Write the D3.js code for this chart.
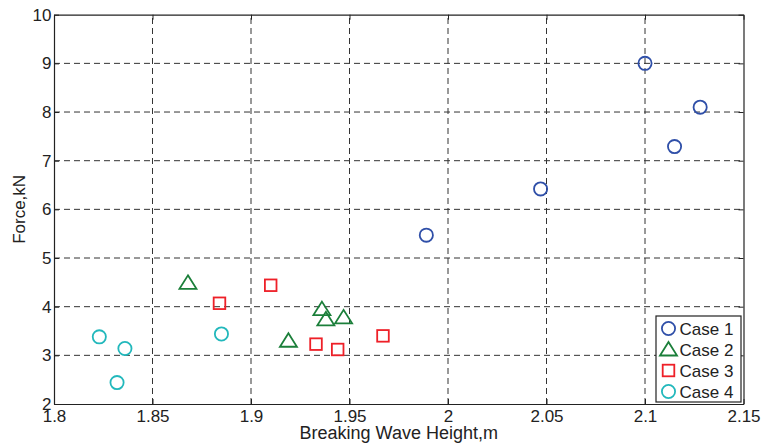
<!DOCTYPE html>
<html>
<head>
<meta charset="utf-8">
<script src="https://cdn.jsdelivr.net/npm/d3@7"></script>
<style>
  html, body { margin: 0; padding: 0; background: #fff; }
  svg { display: block; font-family: "Liberation Sans", Arial, sans-serif; }
</style>
</head>
<body>
<svg id="chart" width="762" height="447"></svg>
<script>
// Breaking wave height (m) vs. measured force (kN) for four test cases
const case1X = [2.100, 2.128, 2.115, 2.047, 1.989];
const case1Y = [9.00, 8.10, 7.29, 6.42, 5.47];
const case2X = [1.868, 1.919, 1.936, 1.938, 1.947];
const case2Y = [4.49, 3.30, 3.95, 3.74, 3.78];
const case3X = [1.884, 1.910, 1.933, 1.944, 1.967];
const case3Y = [4.07, 4.44, 3.23, 3.12, 3.40];
const case4X = [1.823, 1.836, 1.832, 1.885];
const case4Y = [3.38, 3.14, 2.44, 3.44];

const seriesNames = ["Case 1", "Case 2", "Case 3", "Case 4"];
const seriesColors = ["#2f4fa8", "#1b7f3a", "#ee2028", "#22b8bc"];
const seriesShapes = ["circle", "triangle", "square", "circle"];

const xTicks = [1.8, 1.85, 1.9, 1.95, 2, 2.05, 2.1, 2.15];
const yTicks = [2, 3, 4, 5, 6, 7, 8, 9, 10];

const svg = d3.select("#chart");
const margin = { left: 54, right: 18.5, top: 14.7, bottom: 43 };
const W = 762, H = 447;
const x = d3.scaleLinear().domain([1.8, 2.15]).range([margin.left, W - margin.right]);
const y = d3.scaleLinear().domain([2, 10]).range([H - margin.bottom, margin.top]);
const [x0, x1] = x.range();
const [y0, y1] = y.range();

// dashed grid
const grid = svg.append("g").attr("stroke", "#333").attr("stroke-width", 1)
  .attr("stroke-dasharray", "6,4");
grid.selectAll("line.gx").data(xTicks.slice(1, -1)).join("line")
  .attr("x1", d => x(d)).attr("x2", d => x(d)).attr("y1", y0).attr("y2", y1);
grid.selectAll("line.gy").data(yTicks.slice(1, -1)).join("line")
  .attr("y1", d => y(d)).attr("y2", d => y(d)).attr("x1", x0).attr("x2", x1);

// axes with inward ticks, mirrored on the opposite sides
const tick = 5;
const fmt = d => String(d);
svg.append("g").attr("transform", `translate(0,${y0})`)
  .call(d3.axisBottom(x).tickValues(xTicks).tickFormat(fmt).tickSizeInner(-tick).tickSizeOuter(0).tickPadding(6));
svg.append("g").attr("transform", `translate(0,${y1})`)
  .call(d3.axisTop(x).tickValues(xTicks).tickFormat("").tickSizeInner(-tick).tickSizeOuter(0));
svg.append("g").attr("transform", `translate(${x0},0)`)
  .call(d3.axisLeft(y).tickValues(yTicks).tickFormat(fmt).tickSizeInner(-tick).tickSizeOuter(0).tickPadding(2.5));
svg.append("g").attr("transform", `translate(${x1},0)`)
  .call(d3.axisRight(y).tickValues(yTicks).tickFormat("").tickSizeInner(-tick).tickSizeOuter(0));
svg.selectAll(".domain").attr("stroke", "#222").attr("stroke-width", 1.2);
svg.selectAll(".tick line").attr("stroke", "#222");
svg.selectAll(".tick text").attr("font-size", 17).attr("fill", "#222")
  .attr("font-family", "Liberation Sans, Arial, sans-serif");

// axis titles
svg.append("text").attr("x", (x0 + x1) / 2).attr("y", 439).attr("text-anchor", "middle")
  .attr("font-size", 18).attr("fill", "#222").text("Breaking Wave Height,m");
svg.append("text").attr("transform", `translate(25,${(y0 + y1) / 2}) rotate(-90)`)
  .attr("text-anchor", "middle").attr("font-size", 17).attr("fill", "#222").text("Force,kN");

// marker drawing
function drawMarker(g, shape, color) {
  if (shape === "circle") {
    g.append("circle").attr("r", 6.6).attr("fill", "none").attr("stroke", color).attr("stroke-width", 1.8);
  } else if (shape === "square") {
    g.append("rect").attr("x", -5.8).attr("y", -5.8).attr("width", 11.6).attr("height", 11.6)
      .attr("fill", "none").attr("stroke", color).attr("stroke-width", 1.8);
  } else {
    g.append("path").attr("d", "M0,-7.5L8.5,6L-8.5,6Z")
      .attr("fill", "none").attr("stroke", color).attr("stroke-width", 1.8).attr("stroke-linejoin", "miter");
  }
}

const series = [
  { xs: case1X, ys: case1Y },
  { xs: case2X, ys: case2Y },
  { xs: case3X, ys: case3Y },
  { xs: case4X, ys: case4Y }
];
series.forEach((s, i) => {
  const pts = s.xs.map((v, j) => [v, s.ys[j]]);
  svg.append("g").selectAll("g").data(pts).join("g")
    .attr("transform", d => `translate(${x(d[0])},${y(d[1])})`)
    .each(function () { drawMarker(d3.select(this), seriesShapes[i], seriesColors[i]); });
});

// legend
const lg = svg.append("g").attr("transform", "translate(656,316)");
lg.append("rect").attr("width", 85).attr("height", 86).attr("fill", "#fff")
  .attr("stroke", "#222").attr("stroke-width", 1.2);
seriesNames.forEach((name, i) => {
  const row = lg.append("g").attr("transform", `translate(12.5,${12.5 + i * 21})`);
  drawMarker(row.append("g"), seriesShapes[i], seriesColors[i]);
  row.append("text").attr("x", 11).attr("y", 6).attr("font-size", 17).attr("fill", "#222").text(name);
});
</script>
</body>
</html>
